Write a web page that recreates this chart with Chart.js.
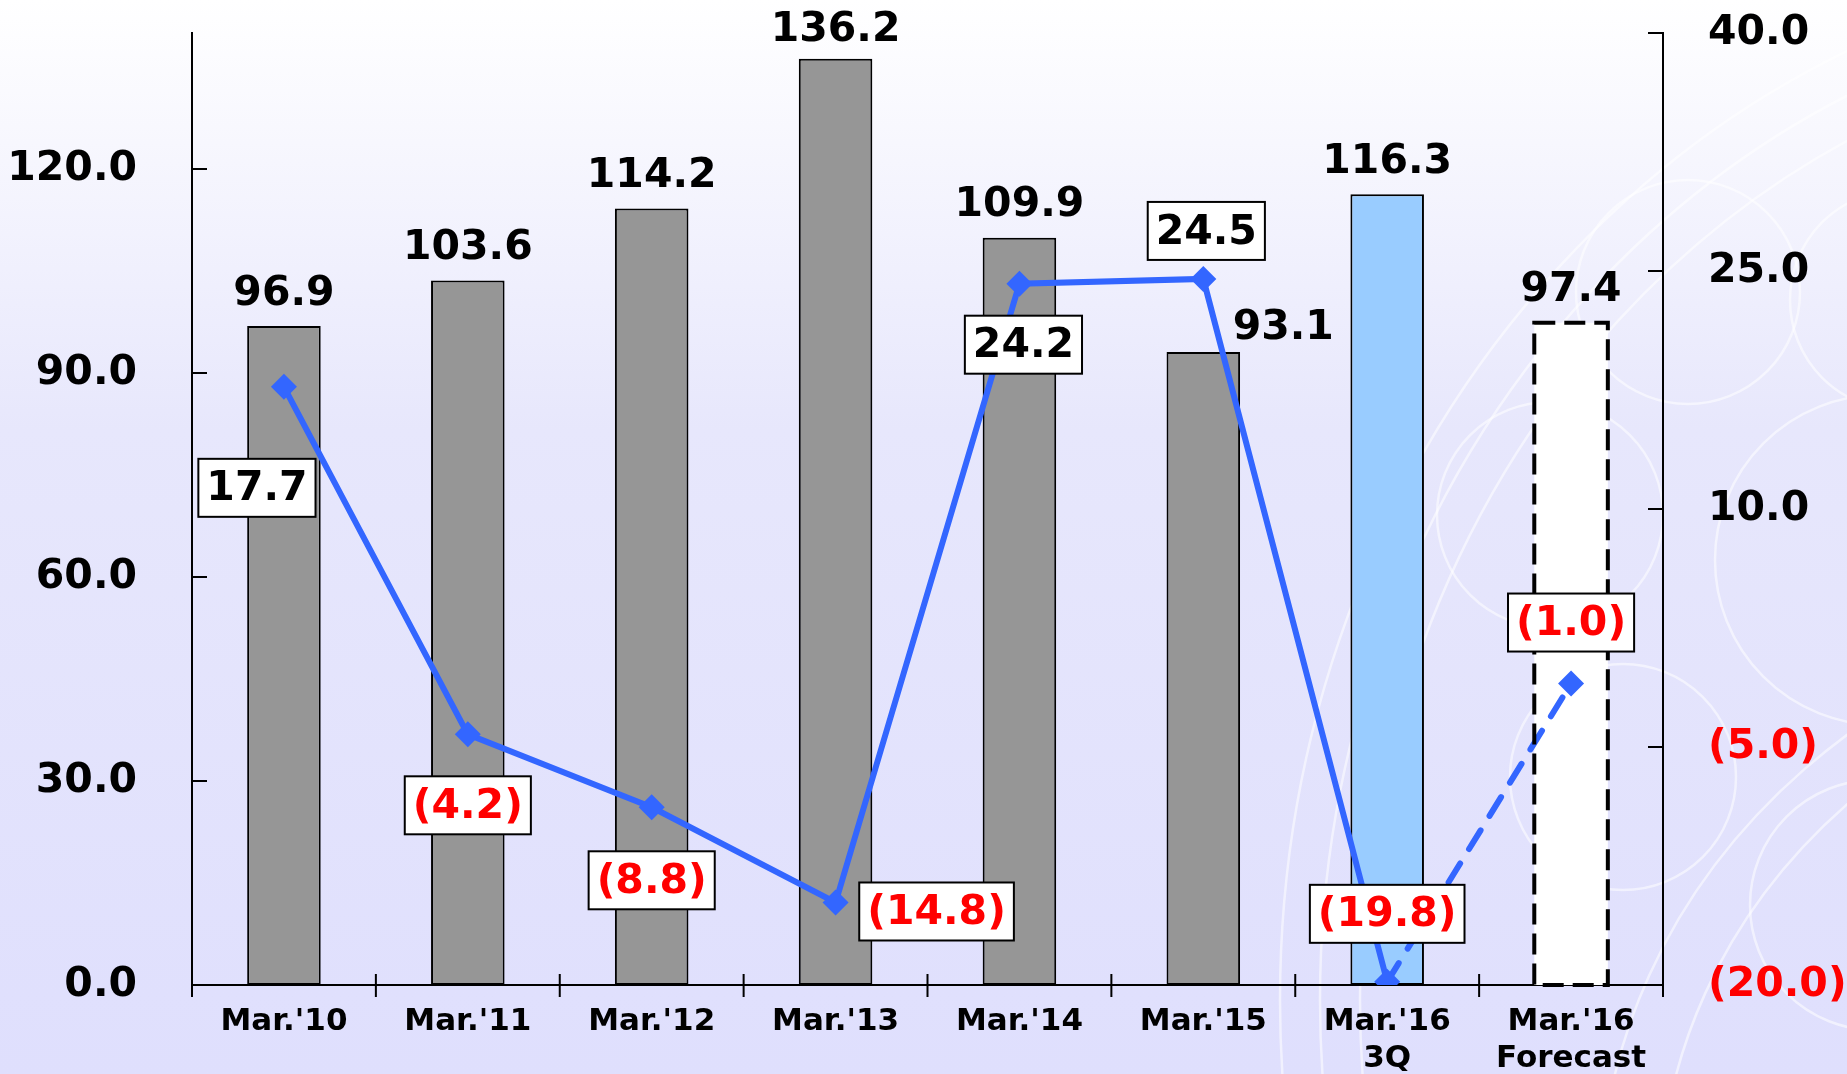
<!DOCTYPE html>
<html>
<head>
<meta charset="utf-8">
<script src="https://cdn.jsdelivr.net/npm/chart.js@4.4.0/dist/chart.umd.min.js"></script>
<style>
  html, body { margin: 0; padding: 0; background: #fff; }
  canvas { display: block; }
</style>
</head>
<body>
<canvas id="myChart" width="1847" height="1074"></canvas>
<script>
// data
let labels = ["Mar.'10", "Mar.'11", "Mar.'12", "Mar.'13", "Mar.'14", "Mar.'15", ["Mar.'16", "3Q"], ["Mar.'16", "Forecast"]];
let sales = [96.9, 103.6, 114.2, 136.2, 109.9, 93.1, 116.3, 97.4];
let profit = [17.7, -4.2, -8.8, -14.8, 24.2, 24.5, -19.8, -1.0];
let leftTicks = [0, 30, 60, 90, 120];
let rightTicks = [-20, -5, 10, 25, 40];

// styles
let barColors = ['#969696', '#969696', '#969696', '#969696', '#969696', '#969696', '#99ccff', '#ffffff'];
let barBorders = [2, 2, 2, 2, 2, 2, 2, 0];
// label offsets (px) from bar top / line point
let barLabelOffsets = [[0, -32], [0, -32], [0, -32], [0, -28], [0, -32], [80, -24], [0, -32], [0, -32]];
let lineLabelOffsets = [[-27, 101], [0, 71], [0, 73], [101, 9], [4, 61], [3, -48], [0, -68], [0, -61]];

const FONT = "'DejaVu Sans', Verdana, sans-serif";
Chart.defaults.font.family = FONT;

function fmt(v) {
    return v < 0 ? '(' + Math.abs(v).toFixed(1) + ')' : v.toFixed(1);
}

// decorative rings on the background
let rings = [
    [1688, 292, 112, 112], [1550, 515, 113, 113], [1623, 777, 113, 113],
    [1880, 560, 165, 165], [1875, 905, 125, 125], [1900, 300, 110, 110],
    [2240, 1000, 880, 960], [2240, 1000, 920, 1000], [2240, 1000, 960, 1040],
    [2300, 1200, 640, 560], [2300, 1200, 700, 610]
];

const bgPlugin = {
    id: 'bg',
    beforeDraw(chart) {
        const ctx = chart.ctx;
        const g = ctx.createLinearGradient(0, 0, 0, chart.height);
        g.addColorStop(0, '#ffffff');
        g.addColorStop(0.4, '#e7e7fc');
        g.addColorStop(1, '#dfdffd');
        ctx.save();
        ctx.fillStyle = g;
        ctx.fillRect(0, 0, chart.width, chart.height);
        ctx.strokeStyle = 'rgba(255,255,255,0.55)';
        ctx.lineWidth = 2.5;
        rings.forEach(r => {
            ctx.beginPath();
            ctx.ellipse(r[0], r[1], r[2], r[3], 0, 0, Math.PI * 2);
            ctx.stroke();
        });
        ctx.restore();
    }
};

const tickPlugin = {
    id: 'tickMarks',
    afterDatasetsDraw(chart) {
        const {ctx, chartArea, scales} = chart;
        ctx.save();
        ctx.strokeStyle = '#000';
        ctx.lineWidth = 2;
        ctx.beginPath();
        scales.y.ticks.forEach(t => {
            const py = scales.y.getPixelForValue(t.value);
            ctx.moveTo(chartArea.left, py);
            ctx.lineTo(chartArea.left + 15, py);
        });
        scales.y1.ticks.forEach(t => {
            const py = scales.y1.getPixelForValue(t.value);
            ctx.moveTo(chartArea.right, py);
            ctx.lineTo(chartArea.right - 15, py);
        });
        for (let i = 0; i <= labels.length; i++) {
            const px = scales.x.getPixelForValue(i - 0.5);
            ctx.moveTo(px, chartArea.bottom - 11);
            ctx.lineTo(px, chartArea.bottom + 12);
        }
        ctx.stroke();
        ctx.restore();
    }
};

const labelPlugin = {
    id: 'valueLabels',
    afterDatasetsDraw(chart) {
        const ctx = chart.ctx;
        const lineMeta = chart.getDatasetMeta(0);
        const barMeta = chart.getDatasetMeta(1);
        ctx.save();

        // forecast bar: dashed outline
        const fb = barMeta.data[7];
        ctx.strokeStyle = '#000';
        ctx.lineWidth = 4;
        ctx.setLineDash([21, 9]);
        ctx.strokeRect(fb.x - fb.width / 2, fb.y, fb.width, fb.base - fb.y);
        ctx.setLineDash([]);

        ctx.textAlign = 'center';
        ctx.textBaseline = 'middle';
        ctx.font = 'bold 41px ' + FONT;
        ctx.fillStyle = '#000';
        barMeta.data.forEach((bar, i) => {
            const off = barLabelOffsets[i];
            ctx.fillText(sales[i].toFixed(1), bar.x + off[0], bar.y + off[1]);
        });

        lineMeta.data.forEach((pt, i) => {
            const txt = fmt(profit[i]);
            const off = lineLabelOffsets[i];
            const w = ctx.measureText(txt).width + 16;
            const h = 58;
            const cx = pt.x + off[0];
            const cy = pt.y + off[1];
            ctx.fillStyle = '#fff';
            ctx.fillRect(cx - w / 2, cy - h / 2, w, h);
            ctx.strokeStyle = '#000';
            ctx.lineWidth = 2;
            ctx.strokeRect(cx - w / 2, cy - h / 2, w, h);
            ctx.fillStyle = profit[i] < 0 ? '#ff0000' : '#000';
            ctx.fillText(txt, cx, cy + 2);
        });
        ctx.restore();
    }
};

let config = {
    type: 'bar',
    data: {
        labels: labels,
        datasets: [{
            type: 'line',
            label: 'Profit',
            data: profit,
            yAxisID: 'y1',
            order: 1,
            borderColor: '#3366ff',
            borderWidth: 6,
            borderCapStyle: 'round',
            tension: 0,
            pointStyle: 'rectRot',
            pointRadius: 13,
            pointBackgroundColor: '#3366ff',
            pointBorderWidth: 0,
            segment: {
                borderDash: ctx => ctx.p1DataIndex === 7 ? [22, 17] : undefined
            }
        }, {
            type: 'bar',
            label: 'Sales',
            data: sales,
            yAxisID: 'y',
            order: 2,
            backgroundColor: barColors,
            borderColor: '#000',
            borderWidth: barBorders,
            borderSkipped: false,
            categoryPercentage: 1,
            barPercentage: 0.4
        }]
    },
    options: {
        responsive: false,
        devicePixelRatio: 1,
        animation: false,
        layout: { padding: { top: 33, left: 0, right: 0, bottom: 0 } },
        plugins: {
            legend: { display: false },
            tooltip: { enabled: false }
        },
        scales: {
            x: {
                offset: true,
                grid: { display: false, drawTicks: false },
                border: { display: true, color: '#000', width: 2 },
                ticks: {
                    color: '#000',
                    font: { size: 31, weight: 'bold', lineHeight: 1.2 },
                    padding: 18,
                    maxRotation: 0,
                    autoSkip: false
                },
                afterFit: s => { s.height = 89; s.paddingLeft = 0; s.paddingRight = 0; }
            },
            y: {
                position: 'left',
                min: 0,
                max: 140,
                grid: { display: false, drawTicks: false },
                border: { display: true, color: '#000', width: 2 },
                afterBuildTicks: s => { s.ticks = leftTicks.map(v => ({ value: v })); },
                ticks: {
                    color: '#000',
                    font: { size: 41, weight: 'bold' },
                    padding: 55,
                    callback: v => fmt(v)
                },
                afterFit: s => { s.width = 192; s.paddingTop = 0; s.paddingBottom = 0; }
            },
            y1: {
                position: 'right',
                min: -20,
                max: 40,
                grid: { display: false, drawTicks: false },
                border: { display: true, color: '#000', width: 2 },
                afterBuildTicks: s => { s.ticks = rightTicks.map(v => ({ value: v })); },
                ticks: {
                    color: c => c.tick.value < 0 ? '#ff0000' : '#000',
                    font: { size: 41, weight: 'bold' },
                    padding: 45,
                    callback: v => fmt(v)
                },
                afterFit: s => { s.width = 184; s.paddingTop = 0; s.paddingBottom = 0; }
            }
        }
    },
    plugins: [bgPlugin, tickPlugin, labelPlugin]
};

const myChart = new Chart(document.getElementById('myChart'), config);
</script>
</body>
</html>
